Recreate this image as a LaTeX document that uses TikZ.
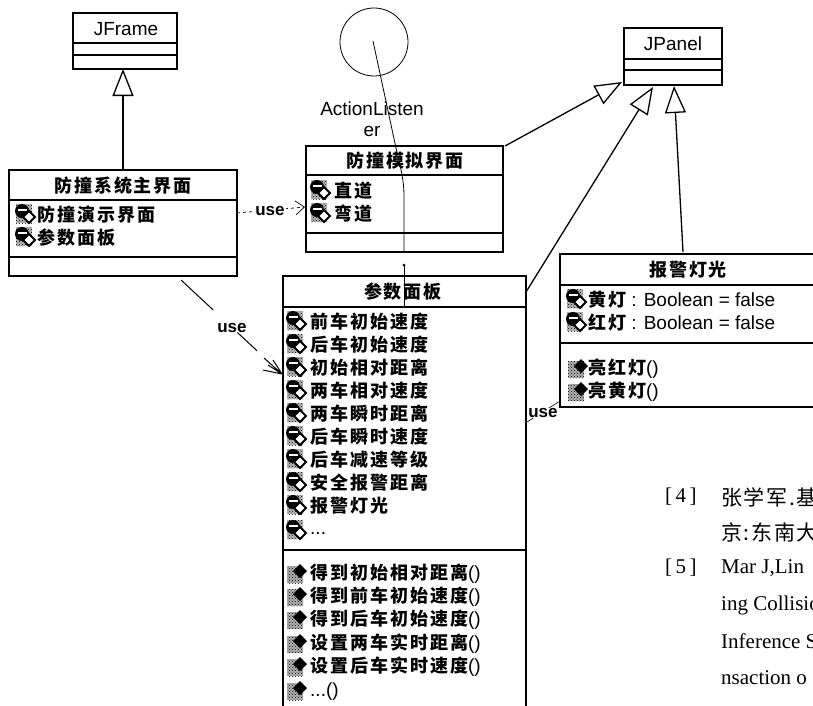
\documentclass[tikz,border=0pt]{standalone}
\usepackage{fontspec}
\setmainfont{Liberation Sans}
\newfontfamily\cnb[LetterSpace=11]{Noto Sans CJK SC}
\newfontfamily\cnr[LetterSpace=8]{Noto Sans CJK SC}
\newfontfamily\lser{Liberation Serif}
\usetikzlibrary{arrows.meta,patterns}
\newcommand{\zh}[1]{{\cnb\bfseries\fontsize{18}{20}\selectfont #1}}
\newcommand{\bibzh}[1]{{\cnr\fontsize{21}{23}\selectfont #1}}
\tikzset{
  x=1pt,y=-1pt,
  box/.style={draw,line width=1.5pt,anchor=north west,inner sep=0pt,outer sep=0pt},
  sep/.style={line width=1.3pt},
  gen/.style={line width=1.3pt,-{Triangle[open,length=27pt,width=21pt,line width=1.3pt]}},
  thin line/.style={line width=0.8pt},
  lat/.style={inner sep=0pt,font=\fontsize{19}{21}\selectfont},
  item/.style={anchor=west,inner sep=0pt,font=\fontsize{19}{21}\selectfont},
  usel/.style={inner sep=1pt,font=\bfseries\fontsize{17}{19}\selectfont},
  bib/.style={anchor=west,inner sep=0pt,font=\lser\fontsize{21}{23}\selectfont},
  attr/.pic={
    \fill[gray!55] (-9,-10) rectangle (7,9);
    \fill[pattern=crosshatch dots,pattern color=black] (-9,-10) rectangle (7,9);
    \fill[black] (-3,-3) circle (7);
    \fill[white] (-7,-5) rectangle (2,-3);
    \draw[fill=white,line width=1.8pt] (4,-3) -- (10,3) -- (4,9) -- (-2,3) -- cycle;
  },
  meth/.pic={
    \fill[gray!60] (-11,-7) rectangle (5,10);
    \fill[pattern=crosshatch dots,pattern color=black] (-11,-7) rectangle (5,10);
    \fill[black] (2,-9) -- (9,-2) -- (2,5) -- (-5,-2) -- cycle;
  }
}
\begin{document}
\begin{tikzpicture}
\useasboundingbox (0,0) rectangle (813,705);
\clip (0,0) rectangle (813,705);
\fill[white] (0,0) rectangle (813,705);

% JFrame
\node[box,minimum width=104pt,minimum height=56pt] (jf) at (73,13) {};
\node[lat] (jft) at (126,29) {JFrame};
\draw[sep] (73,43) -- (177,43) (73,55) -- (177,55);

% main
\node[box,minimum width=228pt,minimum height=106pt] (main) at (9,170) {};
\node[inner sep=0pt] (maint) at (123,186) {\zh{防撞系统主界面}};
\draw[sep] (9,200) -- (237,200) (9,257) -- (237,257);
\pic at (25,214) {attr};
\node[item] (m1) at (37,215) {\zh{防撞演示界面}};
\pic at (25,237) {attr};
\node[item] (m2) at (37,238) {\zh{参数面板}};

% circle
\node[draw,thin line,circle,minimum size=68pt,inner sep=0pt] (ci) at (374,42) {};
\coordinate (cic) at (373,41);
\node[lat] (cil1) at (372,109) {ActionListen};
\node[lat] (cil2) at (372,131) {er};

% simulation
\node[box,minimum width=197pt,minimum height=106pt] (sim) at (306,146) {};
\node[inner sep=0pt] (simt) at (405,161) {\zh{防撞模拟界面}};
\draw[sep] (306,175) -- (503,175) (306,233) -- (503,233);
\pic at (320,190) {attr};
\node[item] (s1) at (334,191) {\zh{直道}};
\pic at (320,213) {attr};
\node[item] (s2) at (334,214) {\zh{弯道}};

% JPanel
\node[box,minimum width=98pt,minimum height=57pt] (jp) at (624,28) {};
\node[lat] (jpt) at (673,44) {JPanel};
\draw[sep] (624,59) -- (722,59) (624,70) -- (722,70);

% alarm
\node[box,minimum width=300pt,minimum height=153pt] (al) at (560,254) {};
\node[inner sep=0pt] (alt) at (688,270) {\zh{报警灯光}};
\draw[sep] (560,285) -- (860,285) (560,343) -- (860,343);
\pic at (576,299) {attr};
\node[item] (a1) at (588,300) {\zh{黄灯} : Boolean = false};
\pic at (576,322) {attr};
\node[item] (a2) at (588,323) {\zh{红灯} : Boolean = false};
\pic at (579,368) {meth};
\node[item] (a3) at (588,369) {\zh{亮红灯}()};
\pic at (579,391) {meth};
\node[item] (a4) at (588,392) {\zh{亮黄灯}()};

% params
\node[box,minimum width=243pt,minimum height=450pt] (pm) at (283,276) {};
\node[inner sep=0pt] (pmt) at (403,292) {\zh{参数面板}};
\draw[sep] (283,307) -- (526,307) (283,550) -- (526,550);
\foreach \n/\y/\t in {1/321/前车初始速度,2/344/后车初始速度,3/367/初始相对距离,4/390/两车相对速度,5/413/两车瞬时距离,6/436/后车瞬时速度,7/459/后车减速等级,8/482/安全报警距离,9/505/报警灯光}{
  \pic at (296,\y) {attr};
  \node[item] (p\n) at (310,\y+1) {\zh{\t}};
}
\pic at (296,530) {attr};
\node[item] (p10) at (310,533) {...};
\foreach \n/\y/\t in {1/573/得到初始相对距离,2/596/得到前车初始速度,3/619/得到后车初始速度,4/643/设置两车实时距离,5/666/设置后车实时速度}{
  \pic at (298,\y) {meth};
  \node[item] (q\n) at (310,\y+1) {\zh{\t}()};
}
\pic at (298,690) {meth};
\node[item] (q6) at (310,692) {...()};

% generalisations
\draw[gen] (maint.north |- main.north) -- (maint.north |- jf.south);
\coordinate (simne) at (505,146);
\coordinate (jpa) at (622,82);
\draw[gen] (simne) -- (jpa);
\coordinate (pmne) at (526,292);
\coordinate (jpb) at (653,87);
\draw[gen] (pmne) -- (jpb);
\coordinate (ala) at (683,252);
\coordinate (jpc) at (674,86);
\draw[gen] (ala) -- (jpc);

% realisation
\coordinate (ra) at (396,148);
\coordinate (rb) at (404,195);
\coordinate (rc) at (404,252);
\coordinate (rd) at (404,265);
\coordinate (re) at (404,306);
\draw[thin line] (cic) -- (ra) .. controls (400,165) and (404,180) .. (rb) -- (rc);
\draw[thin line] (rd) -- (re);
\fill (rd) circle (1.5);

% use main -> sim
\coordinate (ua) at (237,213);
\coordinate (ub) at (305,207);
\draw[line width=0.7pt,dashed,-{Straight Barb[length=9pt,width=14pt]}] (ua) -- (ub);
\node[usel,fill=white] (ul1) at (270,211) {use};

% use main -> params
\coordinate (va) at (181,280);
\coordinate (vb) at (282,374);
\draw[line width=1pt,dash pattern=on 44pt off 33pt on 27pt off 60pt] (va) -- (vb);
\draw[line width=1pt] (263,370) -- (vb) (268,365) -- (vb) (273,360) -- (vb) (264,358) -- (vb);
\node[usel] (ul2) at (232,328) {use};

% use params -> alarm
\coordinate (wa) at (527,422);
\coordinate (wb) at (560,401);
\draw[line width=0.6pt] (wa) -- (wb);
\node[usel,fill=white,inner sep=0pt] (ul3) at (543,413) {use};

% references
\node[bib] (b1) at (665,497) {[\,4\,]};
\node[bib] (b2) at (721,497) {\bibzh{张学军.基}};
\node[bib] (b3) at (721,532) {\bibzh{京:东南大}};
\node[bib] (b4) at (665,568) {[\,5\,]};
\node[bib] (b5) at (721,568) {Mar J,Lin};
\node[bib] (b6) at (721,605) {ing Collisio};
\node[bib] (b7) at (721,641) {Inference S};
\node[bib] (b8) at (721,678) {nsaction o};
\end{tikzpicture}
\end{document}
